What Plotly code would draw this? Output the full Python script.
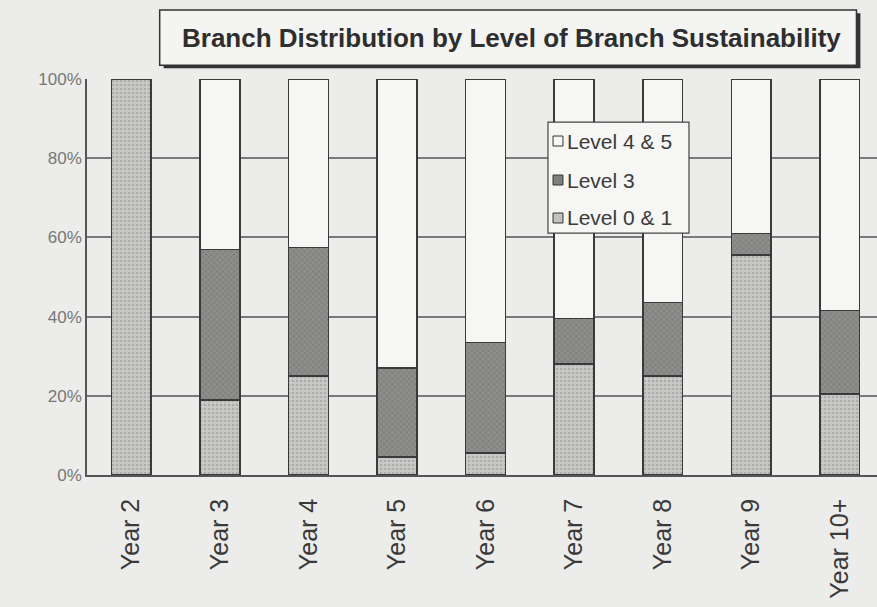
import plotly.graph_objects as go

# 各年份分支的可持续性等级分布（百分比）
years = ["Year 2", "Year 3", "Year 4", "Year 5", "Year 6", "Year 7", "Year 8", "Year 9", "Year 10+"]
level_01 = [100, 19, 25, 4.5, 5.5, 28, 25, 55.5, 20.5]
level_3 = [0, 38, 32.5, 22.5, 28, 11.5, 18.5, 5.5, 21]
level_45 = [0, 43, 42.5, 73, 66.5, 60.5, 56.5, 39, 58.5]
y_ticks = [0, 20, 40, 60, 80, 100]

PAPER = "#ececea"
OUTLINE = "#3a3a3a"
FONT = "Liberation Sans, Arial, sans-serif"

# 图例：从上到下的顺序
legend_items = [
    ("Level 4 & 5", "#f6f6f4"),
    ("Level 3", "#7e7e7c"),
    ("Level 0 & 1", "#c2c2c0"),
]

fig = go.Figure()
fig.add_trace(go.Bar(
    x=years, y=level_01, name="Level 0 & 1",
    marker=dict(color="#c9c9c7", line=dict(color=OUTLINE, width=1.5),
                pattern=dict(shape=".", fgcolor="#8f8f8f", size=4, solidity=0.35)),
))
fig.add_trace(go.Bar(
    x=years, y=level_3, name="Level 3",
    marker=dict(color="#8e8e8c", line=dict(color=OUTLINE, width=1.5),
                pattern=dict(shape="x", fgcolor="#5e5e5e", size=4, solidity=0.3)),
))
fig.add_trace(go.Bar(
    x=years, y=level_45, name="Level 4 & 5",
    marker=dict(color="#f6f6f4", line=dict(color=OUTLINE, width=1.5)),
))

# 标题框（带阴影）
fig.add_shape(type="rect", xref="paper", yref="paper",
              x0=0.097, x1=0.979, y0=1.027, y1=1.166,
              fillcolor="#333333", line=dict(width=0), layer="above")
fig.add_shape(type="rect", xref="paper", yref="paper",
              x0=0.092, x1=0.974, y0=1.035, y1=1.174,
              fillcolor="#f4f4f2", line=dict(color="#333333", width=1.5), layer="above")
fig.add_annotation(
    text="<b>Branch Distribution by Level of Branch Sustainability</b>",
    xref="paper", yref="paper", x=0.537, y=1.104, xanchor="center", yanchor="middle",
    showarrow=False, font=dict(family=FONT, size=26, color="#2e2e2e"),
)

# 手绘图例框
fig.add_shape(type="rect", xref="paper", yref="paper",
              x0=0.5835, x1=0.762, y0=0.611, y1=0.891,
              fillcolor="#f6f6f4", line=dict(color="#444444", width=1.2), layer="above")
row_y = [0.8434, 0.7449, 0.649]
for (label, color), yy in zip(legend_items, row_y):
    fig.add_shape(type="rect", xref="paper", yref="paper",
                  x0=0.5899, x1=0.6025, y0=yy - 0.0126, y1=yy + 0.0126,
                  fillcolor=color, line=dict(color="#333333", width=1), layer="above")
    fig.add_annotation(text=label, xref="paper", yref="paper", x=0.605, y=yy,
                       xanchor="left", yanchor="middle", showarrow=False,
                       font=dict(family=FONT, size=21, color="#3a3a3a"))

fig.update_layout(
    width=877, height=607,
    barmode="stack", bargap=0.55,
    paper_bgcolor=PAPER, plot_bgcolor=PAPER,
    margin=dict(l=87, r=0, t=79, b=132),
    font=dict(family=FONT, color="#333333"),
    showlegend=False,
    xaxis=dict(
        range=[-0.5, 8.42], tickangle=-90, showgrid=False,
        tickfont=dict(size=25, color="#3a3a3a"), ticklabelstandoff=12,
        showline=True, linecolor="#555555", linewidth=1.5,
    ),
    yaxis=dict(
        range=[0, 100], tickmode="array", tickvals=y_ticks,
        ticktext=[f"{v}%" for v in y_ticks],
        showgrid=True, gridcolor="#7a7a7a", gridwidth=1.5,
        zeroline=False, showline=True, linecolor="#555555", linewidth=1.5,
        tickfont=dict(size=17, color="#777777"), ticks="",
    ),
)

fig.write_html("out.html", config={"displayModeBar": False},
               post_script="document.body.style.margin='0px';")
